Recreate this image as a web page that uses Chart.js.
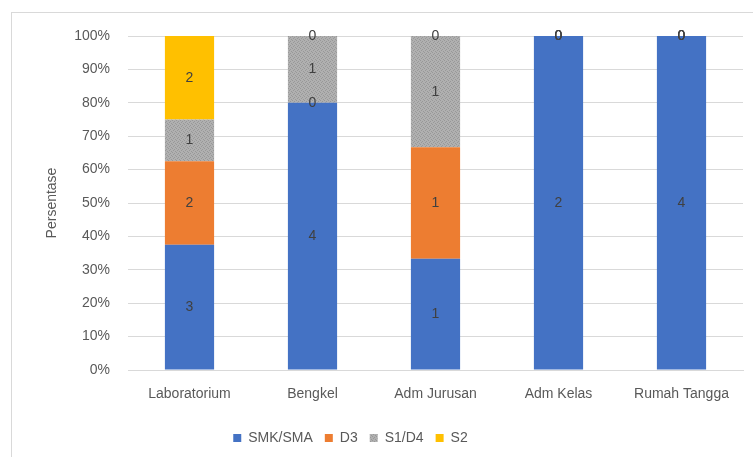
<!DOCTYPE html>
<html lang="id">
<head>
  <meta charset="UTF-8">
  <title>Persentase Pendidikan</title>
  <script src="https://cdn.jsdelivr.net/npm/chart.js"></script>
  <style>
    html, body {
      margin: 0;
      padding: 0;
      background: #ffffff;
    }
    #frame {
      position: absolute;
      left: 11px;
      top: 12px;
      width: 760px;
      height: 460px;
      border-left: 1px solid #d9d9d9;
      border-top: 1px solid #d9d9d9;
    }
    #wrap {
      position: absolute;
      left: 0;
      top: 0;
      width: 753px;
      height: 457px;
    }
  </style>
</head>
<body>
  <div id="frame"></div>
  <div id="wrap"><canvas id="chart" width="753" height="457"></canvas></div>

  <script>
    // kategori unit kerja
    const categories = ["Laboratorium", "Bengkel", "Adm Jurusan", "Adm Kelas", "Rumah Tangga"];

    // jumlah orang per jenjang pendidikan
    const smkSma = [3, 4, 1, 2, 4];
    const d3     = [2, 0, 1, 0, 0];
    const s1d4   = [1, 1, 1, 0, 0];
    const s2     = [2, 0, 0, 0, 0];

    const seriesNames = ["SMK/SMA", "D3", "S1/D4", "S2"];
    const yTicks = [0, 10, 20, 30, 40, 50, 60, 70, 80, 90, 100];

    const totals = categories.map((c, i) => smkSma[i] + d3[i] + s1d4[i] + s2[i]);
    const pct = arr => arr.map((v, i) => v / totals[i] * 100);

    // tekstur abu-abu seperti di Excel
    function grayPattern() {
      const c = document.createElement("canvas");
      c.width = 4; c.height = 4;
      const g = c.getContext("2d");
      g.fillStyle = "#b0b0b0";
      g.fillRect(0, 0, 4, 4);
      g.fillStyle = "#989898";
      g.fillRect(0, 0, 1, 1); g.fillRect(2, 1, 1, 1);
      g.fillRect(1, 2, 1, 1); g.fillRect(3, 3, 1, 1);
      return g.createPattern(c, "repeat");
    }
    const gray = grayPattern();

    const font = { family: "'Liberation Sans', Arial, sans-serif", size: 14 };

    // angka jumlah di tengah tiap segmen
    const countLabels = {
      id: "countLabels",
      afterDatasetsDraw(chart) {
        const ctx = chart.ctx;
        ctx.save();
        ctx.font = "14px 'Liberation Sans', Arial, sans-serif";
        ctx.fillStyle = "#404040";
        ctx.textAlign = "center";
        ctx.textBaseline = "middle";
        chart.data.datasets.forEach((ds, di) => {
          const meta = chart.getDatasetMeta(di);
          meta.data.forEach((bar, i) => {
            const p = bar.getCenterPoint();
            ctx.fillText(String(ds.counts[i]), p.x, p.y);
          });
        });
        ctx.restore();
      }
    };

    // geser legenda ke kiri seperti aslinya
    const legendShift = {
      id: "legendShift",
      afterLayout(chart) {
        chart.legend.left -= 41;
        chart.legend.right -= 41;
      }
    };

    new Chart(document.getElementById("chart"), {
      type: "bar",
      data: {
        labels: categories,
        datasets: [
          { label: seriesNames[0], data: pct(smkSma), counts: smkSma, backgroundColor: "#4472c4" },
          { label: seriesNames[1], data: pct(d3), counts: d3, backgroundColor: "#ed7d31" },
          { label: seriesNames[2], data: pct(s1d4), counts: s1d4, backgroundColor: gray },
          { label: seriesNames[3], data: pct(s2), counts: s2, backgroundColor: "#ffc000" }
        ]
      },
      options: {
        responsive: false,
        animation: false,
        categoryPercentage: 0.4,
        barPercentage: 1,
        layout: { padding: { left: 40, right: 10, top: 36, bottom: 2 } },
        plugins: {
          tooltip: { enabled: false },
          legend: {
            position: "bottom",
            labels: {
              boxWidth: 8,
              boxHeight: 8,
              padding: 12,
              color: "#595959",
              font: font
            }
          }
        },
        scales: {
          x: {
            stacked: true,
            afterFit(scale) { scale.height = 49; },
            grid: { display: false, drawTicks: false },
            border: { color: "#d9d9d9" },
            ticks: { color: "#595959", font: font, padding: 16, maxRotation: 0 }
          },
          y: {
            stacked: true,
            min: 0,
            max: 100,
            afterFit(scale) { scale.width = 88; },
            afterBuildTicks(scale) { scale.ticks = yTicks.map(v => ({ value: v })); },
            grid: { color: "#d9d9d9", drawTicks: false },
            border: { display: false },
            ticks: {
              color: "#595959",
              font: font,
              padding: 18,
              callback: v => v + "%"
            },
            title: {
              display: true,
              text: "Persentase",
              color: "#595959",
              font: font
            }
          }
        }
      },
      plugins: [countLabels, legendShift]
    });
  </script>
</body>
</html>
